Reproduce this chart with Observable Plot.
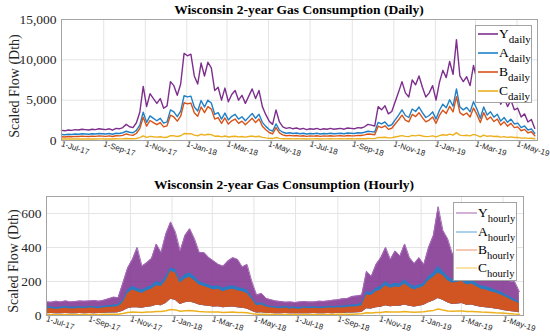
<!DOCTYPE html>
<html><head><meta charset="utf-8">
<script src="https://cdn.jsdelivr.net/npm/d3@7"></script>
<script src="https://cdn.jsdelivr.net/npm/@observablehq/plot@0.6"></script>
<style>
body{margin:0;background:#fff;}
#wrap{position:relative;width:550px;height:336px;overflow:hidden;background:#fff;font-family:"Liberation Serif","Times New Roman",serif;color:#000;}
.title{position:absolute;font-weight:bold;font-size:13.5px;line-height:14px;white-space:nowrap;transform:translateX(-50%);}
.panel{position:absolute;left:0;}
#leg{position:absolute;left:0;top:0;pointer-events:none;}
</style></head><body><div id="wrap"></div>
<script>
// ---- data ----
const dailyStepDays = 5;   // daily series sampled every 5 days from 1-Jul-17
const hourlyStepDays = 7;  // hourly envelope sampled every 7 days from 1-Jul-17
const xTickDates = ["2017-07-01","2017-09-01","2017-11-01","2018-01-01","2018-03-01","2018-05-01",
                    "2018-07-01","2018-09-01","2018-11-01","2019-01-01","2019-03-01","2019-05-01"];
const yTicksDaily = [0, 5000, 10000, 15000];
const yTicksHourly = [0, 200, 400, 600];
const seriesNames = ["Y", "A", "B", "C"];

const yDaily = [1250,1200,1300,1250,1350,1300,1400,1350,1300,1400,
 1350,1450,1400,1350,1450,1300,1500,1450,1600,2000,
 1700,1600,2200,3500,6700,4200,5800,5200,4600,5200,
 4000,4300,7300,6800,5600,7000,10800,10500,10700,8000,
 7000,9600,8000,9700,9000,6200,6600,5000,6500,4800,
 5700,6200,5000,5600,4600,5500,6400,5200,6200,4200,
 3200,2400,2000,3800,2300,1700,1500,1600,1450,1550,
 1400,1500,1350,1450,1400,1500,1350,1450,1400,1500,
 1400,1450,1500,1400,1550,1500,1450,1600,1550,1700,
 2000,1900,1800,4200,3800,4300,3300,3600,4800,6000,
 7300,5900,5400,7500,6900,8000,6600,5400,5900,6800,
 5000,7200,8700,7800,9800,8200,12500,8000,7300,7900,
 6800,9300,7500,5200,8000,6000,6800,5500,6200,4500,
 5400,4200,5000,3800,4000,2900,3300,2300,2600,1500];
const aDaily = [750,720,780,750,810,780,840,810,780,840,
 810,870,840,810,870,780,900,870,960,1150,
 1020,960,1250,1900,3500,2250,3050,2750,2450,2750,
 2150,2300,3800,3550,2950,3650,5550,5400,5500,4150,
 3650,4950,4150,5000,4650,3250,3450,2650,3400,2550,
 3000,3250,2650,2950,2450,2900,3350,2750,3250,2250,
 1750,1350,1150,2050,1300,1020,900,960,870,930,
 840,900,810,870,840,900,810,870,840,900,
 840,870,900,840,930,900,870,960,930,1020,
 1150,1100,1050,2250,2050,2300,1800,1950,2550,3150,
 3800,3100,2850,3900,3600,4150,3450,2850,3100,3550,
 2650,3750,4500,4050,5050,4250,6400,4150,3800,4100,
 3550,4800,3900,2750,4150,3150,3550,2900,3250,2400,
 2850,2250,2650,2050,2150,1600,1800,1300,1450,900];
const bDaily = [460,430,490,460,510,490,540,510,490,540,
 510,570,540,510,570,490,590,570,640,810,
 700,640,900,1470,2880,1780,2480,2220,1960,2220,
 1690,1820,3140,2920,2400,3010,4680,4550,4640,3450,
 3010,4160,3450,4200,3890,2660,2840,2130,2790,2040,
 2440,2660,2130,2400,1960,2350,2750,2220,2660,1780,
 1340,990,810,1600,940,700,590,640,570,620,
 540,590,510,570,540,590,510,570,540,590,
 540,570,590,540,620,590,570,640,620,700,
 810,770,720,1780,1600,1820,1380,1520,2040,2570,
 3140,2530,2310,3230,2970,3450,2840,2310,2530,2920,
 2130,3100,3760,3360,4240,3540,5430,3450,3140,3410,
 2920,4020,3230,2220,3450,2570,2920,2350,2660,1910,
 2310,1780,2130,1600,1690,1210,1380,940,1080,590];
const cDaily = [190,180,190,190,190,190,200,190,190,200,
 190,200,200,190,200,190,210,200,210,240,
 220,210,250,350,570,390,510,460,420,460,
 380,400,610,580,490,590,860,840,850,660,
 590,770,660,780,730,530,560,450,560,440,
 500,530,450,490,420,490,550,460,530,390,
 320,270,240,370,260,220,210,210,200,210,
 200,210,190,200,200,210,190,200,200,210,
 200,200,210,200,210,210,200,210,210,220,
 240,230,230,390,370,400,330,350,440,520,
 610,510,480,630,580,660,560,480,510,580,
 450,600,710,650,790,670,980,660,610,650,
 580,750,630,460,660,520,580,490,530,420,
 480,390,450,370,380,300,330,260,280,210];

// hourly: weekly envelope of the hourly traces (upper edges, common lower edge, C level)
const yHourlyHi = [80,78,84,80,86,80,82,85,84,86,
 88,84,90,98,108,105,190,280,330,400,
 290,310,335,420,370,480,550,490,380,470,
 510,450,370,370,340,320,300,290,320,340,
 330,285,300,200,120,130,100,92,85,82,
 78,80,76,80,82,79,80,84,83,86,
 90,92,98,100,112,115,120,260,230,300,
 340,400,330,380,350,420,340,305,340,300,
 400,470,640,500,450,360,410,420,360,390,
 360,320,320,290,270,270,240,200,200,140];
const aHourlyHi = [48,52,46,50,54,48,50,53,49,55,
 52,50,56,58,62,65,90,150,170,160,
 150,165,175,200,190,230,280,270,210,240,
 250,230,200,190,180,170,175,160,170,175,
 165,160,150,110,70,75,60,55,52,50,
 54,48,50,47,52,50,53,49,51,54,
 52,56,55,60,62,65,70,140,135,160,
 170,200,180,190,185,210,185,170,180,190,
 230,250,290,260,230,210,220,225,200,210,
 190,175,170,160,150,140,125,110,95,80];
const bHourlyHi = [38,41,36,40,43,38,40,42,39,44,
 42,40,45,47,50,52,75,130,150,140,
 130,145,155,175,170,205,260,250,190,215,
 225,205,180,170,160,150,155,140,150,155,
 145,140,130,95,58,62,50,45,42,40,
 44,38,40,37,42,40,43,39,41,44,
 42,45,44,48,50,52,57,120,118,140,
 150,175,160,168,165,185,165,150,160,170,
 205,225,250,235,205,190,195,200,180,185,
 170,155,150,140,132,122,110,95,82,70];
const hourlyLow = [10,12,10,11,12,10,11,12,10,12,
 11,12,13,14,15,16,25,40,45,45,
 42,48,52,60,58,70,95,90,65,75,
 80,72,62,58,55,50,52,45,48,50,
 45,42,38,25,15,16,13,12,11,10,
 12,10,11,10,11,10,12,10,11,12,
 11,13,12,14,15,16,18,40,38,45,
 48,58,52,55,55,62,55,50,55,60,
 75,85,100,90,75,65,68,70,60,62,
 55,48,45,42,38,34,28,24,20,16];
const cHourly = [5,6,5,5,6,5,6,5,6,6,
 5,6,7,7,8,8,12,18,20,19,
 18,20,21,24,23,28,35,33,25,28,
 30,27,24,22,21,20,20,18,19,20,
 18,17,16,11,8,8,7,6,6,5,
 6,5,6,5,6,5,6,5,6,6,
 6,7,7,8,8,9,10,16,15,17,
 18,22,20,21,20,23,21,19,21,22,
 27,30,38,32,27,25,26,26,23,24,
 22,20,19,18,16,15,13,11,9,8];

// ---- build ----
const SERIF = "Liberation Serif, Times New Roman, serif";
const SANS = "Liberation Sans, Arial, sans-serif";
const colors = {Y:"#7E2F8E", A:"#1f80c8", B:"#D95319", C:"#EDB120"};
const colorsLight = {Y:"#b27cc2", A:"#74b2e2", B:"#f0a283", C:"#f5d06e"};
const dayDate = (k) => new Date(Date.UTC(2017, 6, 1 + k));
const daily = yDaily.map((v, i) => ({date: dayDate(i * dailyStepDays), Y: v, A: aDaily[i], B: bDaily[i], C: cDaily[i]}));
const hourly = yHourlyHi.map((v, i) => ({date: dayDate(i * hourlyStepDays), Yhi: v, Ahi: aHourlyHi[i], Bhi: bHourlyHi[i], low: hourlyLow[i], C: cHourly[i]}));
const xTicks = xTickDates.map(s => new Date(s + "T00:00:00Z"));
const xDomain = [new Date("2017-07-01T00:00:00Z"), new Date("2019-05-31T00:00:00Z")];
const fmt = d3.utcFormat("%-d-%b-%y");
const gridColor = "#e4e4e4";
const txt = "#262626";

function grids(yTicks) {
  return [
    Plot.gridX(xTicks, {stroke: gridColor, strokeOpacity: 1}),
    Plot.gridY(yTicks, {stroke: gridColor, strokeOpacity: 1}),
  ];
}
function axes(yTicks, yLabelDx, yLabelDy) {
  return [
    Plot.frame({stroke: "#a3a3a3"}),
    Plot.axisX(xTicks, {tickFormat: fmt, tickRotate: 18, tickSize: 0, tickPadding: 3, fontSize: 8,
      fontFamily: SANS, color: txt, label: null}),
    Plot.axisY(yTicks, {tickFormat: d3.format(","), tickSize: 0, tickPadding: 5, fontSize: 13.5,
      fontFamily: SERIF, color: txt, label: null}),
    Plot.text(["Scaled Flow (Dth)"], {frameAnchor: "left", dx: yLabelDx, dy: yLabelDy, rotate: -90,
      fontSize: 14, fontFamily: SERIF, fill: txt, textAnchor: "middle"})
  ];
}

const topPlot = Plot.plot({
  width: 550, height: 168, marginTop: 19, marginBottom: 28, marginLeft: 61, marginRight: 13,
  style: {background: "transparent", overflow: "visible"},
  x: {type: "utc", domain: xDomain},
  y: {domain: [0, 15000]},
  marks: [
    ...grids(yTicksDaily),
    Plot.lineY(daily, {x: "date", y: "Y", stroke: colors.Y, strokeWidth: 1.4}),
    Plot.lineY(daily, {x: "date", y: "A", stroke: colors.A, strokeWidth: 1.4}),
    Plot.lineY(daily, {x: "date", y: "B", stroke: colors.B, strokeWidth: 1.4}),
    Plot.lineY(daily, {x: "date", y: "C", stroke: colors.C, strokeWidth: 1.4}),
    ...axes(yTicksDaily, -47, 6)
  ]
});
const bottomPlot = Plot.plot({
  width: 550, height: 168, marginTop: 28, marginBottom: 21, marginLeft: 46, marginRight: 27,
  style: {background: "transparent", overflow: "visible"},
  x: {type: "utc", domain: xDomain},
  y: {domain: [0, 700]},
  marks: [
    ...grids(yTicksHourly),
    Plot.areaY(hourly, {x: "date", y1: "low", y2: "Yhi", fill: colors.Y, fillOpacity: 0.85}),
    Plot.lineY(hourly, {x: "date", y: "Yhi", stroke: "#a66bb8", strokeWidth: 1}),
    Plot.areaY(hourly, {x: "date", y1: "low", y2: "Ahi", fill: colors.A, fillOpacity: 0.9}),
    Plot.areaY(hourly, {x: "date", y1: "low", y2: "Bhi", fill: colors.B, fillOpacity: 0.95}),
    Plot.lineY(hourly, {x: "date", y: "C", stroke: colors.C, strokeWidth: 1.5}),
    ...axes(yTicksHourly, -33, 5)
  ]
});

const wrap = document.getElementById("wrap");
topPlot.classList.add("panel"); topPlot.style.top = "0px";
bottomPlot.classList.add("panel"); bottomPlot.style.top = "168px";
wrap.appendChild(topPlot); wrap.appendChild(bottomPlot);

function title(text, cx, y) {
  const d = document.createElement("div");
  d.className = "title"; d.textContent = text;
  d.style.left = cx + "px"; d.style.top = y + "px";
  wrap.appendChild(d);
}
title("Wisconsin 2-year Gas Consumption (Daily)", 299, 3);
title("Wisconsin 2-year Gas Consumption (Hourly)", 284, 178);

// legends
const svg = d3.select(wrap).append("svg").attr("id", "leg").attr("width", 550).attr("height", 336)
  .style("font-family", SERIF);
function legend(x, y, w, h, rows, sub, palette, lw, x0, x1, tx, subSize) {
  svg.append("rect").attr("x", x + 0.5).attr("y", y + 0.5).attr("width", w).attr("height", h)
    .attr("fill", "#fff").attr("stroke", "#a3a3a3");
  seriesNames.forEach((k, i) => {
    const cy = rows[i];
    svg.append("line").attr("x1", x0).attr("x2", x1).attr("y1", cy).attr("y2", cy)
      .attr("stroke", palette[k]).attr("stroke-width", lw);
    const t = svg.append("text").attr("x", tx).attr("y", cy + 4).attr("font-size", 13.5)
      .attr("font-family", SERIF).attr("fill", "#000");
    t.append("tspan").text(k);
    t.append("tspan").attr("font-size", subSize).attr("dy", 5).text(sub);
  });
}
legend(475, 25, 56, 77, [34, 53, 72, 91], "daily", colors, 1.6, 478, 498, 499, 11);
legend(453, 202, 63, 78, [213, 232, 250, 268], "hourly", colorsLight, 1.2, 456, 477, 478, 10.5);
</script></body></html>
